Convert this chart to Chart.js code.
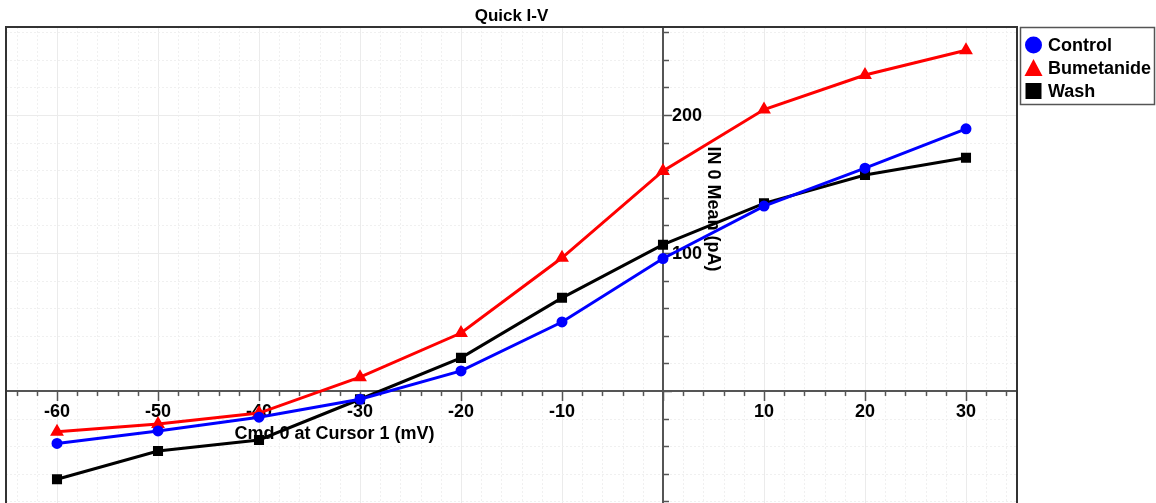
<!DOCTYPE html>
<html>
<head>
<meta charset="utf-8">
<title>Quick I-V</title>
<script src="https://cdn.jsdelivr.net/npm/chart.js@4/dist/chart.umd.min.js"></script>
<style>
  html, body { margin: 0; padding: 0; background: #fff; overflow: hidden; }
  canvas { display: block; }
</style>
</head>
<body>
<canvas id="iv" width="1156" height="503"></canvas>
<script>
// datos (mV / pA)
const voltages = [-60, -50, -40, -30, -20, -10, 0, 10, 20, 30];
const control = [-38, -29, -19, -6, 14.5, 50, 96, 134, 161.5, 190];
const bumetanide = [-29.5, -24, -16, 10, 42, 96.5, 159.5, 204, 229, 247];
const wash = [-64, -43.5, -35.5, -6, 24, 67.5, 106, 136, 156.5, 169];
const xTicks = [-60, -50, -40, -30, -20, -10, 10, 20, 30];
const yTicks = [100, 200];

const seriesNames = ["Control", "Bumetanide", "Wash"];
const seriesColors = ["#0000ff", "#ff0000", "#000000"];

function pts(vals) {
  return voltages.map((v, i) => ({ x: v, y: vals[i] }));
}

const FONT = "bold 18px 'Liberation Sans', Arial, sans-serif";
const AXIS = "#555";

// ejes cruzando en el origen, rejilla, titulos
const axesPlugin = {
  id: "axesPlugin",
  beforeDatasetsDraw(chart) {
    const ctx = chart.ctx;
    const a = chart.chartArea;
    const xs = chart.scales.x;
    const ys = chart.scales.y;
    const x0 = xs.getPixelForValue(0);
    const y0 = ys.getPixelForValue(0);
    ctx.save();

    // rejilla
    for (let v = -64; v <= 34; v += 2) {
      const px = Math.round(xs.getPixelForValue(v)) + 0.5;
      const major = v % 10 === 0;
      ctx.strokeStyle = major ? "#ebebeb" : "#f0f0f0";
      ctx.lineWidth = 1;
      ctx.setLineDash(major ? [] : [2, 2]);
      ctx.beginPath();
      ctx.moveTo(px, a.top);
      ctx.lineTo(px, a.bottom);
      ctx.stroke();
    }
    for (let v = -80; v <= 260; v += 20) {
      const py = Math.round(ys.getPixelForValue(v)) + 0.5;
      const major = v % 100 === 0;
      ctx.strokeStyle = major ? "#ebebeb" : "#f0f0f0";
      ctx.setLineDash(major ? [] : [2, 2]);
      ctx.beginPath();
      ctx.moveTo(a.left, py);
      ctx.lineTo(a.right, py);
      ctx.stroke();
    }
    ctx.setLineDash([]);

    // eje x
    ctx.strokeStyle = AXIS;
    ctx.lineWidth = 2;
    ctx.beginPath();
    ctx.moveTo(a.left, y0);
    ctx.lineTo(a.right, y0);
    ctx.stroke();
    ctx.lineWidth = 1.5;
    for (let v = -64; v <= 34; v += 2) {
      const px = Math.round(xs.getPixelForValue(v)) + 0.5;
      const len = v % 10 === 0 ? 10 : 5;
      ctx.beginPath();
      ctx.moveTo(px, y0);
      ctx.lineTo(px, y0 + len);
      ctx.stroke();
    }

    // eje y
    ctx.lineWidth = 2;
    ctx.beginPath();
    ctx.moveTo(x0, a.top);
    ctx.lineTo(x0, a.bottom);
    ctx.stroke();
    ctx.lineWidth = 1.5;
    for (let v = -80; v <= 260; v += 20) {
      const py = Math.round(ys.getPixelForValue(v)) + 0.5;
      const len = v % 100 === 0 ? 9 : 6;
      ctx.beginPath();
      ctx.moveTo(x0, py);
      ctx.lineTo(x0 + len, py);
      ctx.stroke();
    }

    // etiquetas
    ctx.fillStyle = "#000";
    ctx.font = FONT;
    ctx.textAlign = "center";
    ctx.textBaseline = "middle";
    xTicks.forEach(v => {
      ctx.fillText(String(v), xs.getPixelForValue(v), y0 + 21);
    });
    ctx.textAlign = "left";
    yTicks.forEach(v => {
      ctx.fillText(String(v), x0 + 9, ys.getPixelForValue(v) + 1);
    });

    // titulos de ejes
    ctx.textAlign = "center";
    ctx.fillText("Cmd 0 at Cursor 1 (mV)", (a.left + x0) / 2, y0 + 43);
    ctx.save();
    ctx.translate(x0 + 50, (a.top + y0) / 2);
    ctx.rotate(Math.PI / 2);
    ctx.fillText("IN 0 Mean (pA)", 0, 0);
    ctx.restore();

    // titulo
    ctx.font = "bold 17px 'Liberation Sans', Arial, sans-serif";
    ctx.fillText("Quick I-V", (a.left + a.right) / 2, 16);
    ctx.restore();
  },
  afterDraw(chart) {
    const ctx = chart.ctx;
    const a = chart.chartArea;
    ctx.save();
    // marco del area
    ctx.strokeStyle = "#333";
    ctx.lineWidth = 2;
    ctx.strokeRect(a.left, a.top, a.right - a.left, a.bottom - a.top + 10);

    // leyenda con recuadro
    const lx = 1020, ly = 27, lw = 134, lh = 77;
    ctx.lineWidth = 1.5;
    ctx.strokeStyle = "#555";
    ctx.strokeRect(lx + 0.5, ly + 0.5, lw, lh);
    ctx.font = FONT;
    ctx.textAlign = "left";
    ctx.textBaseline = "middle";
    chart.data.datasets.forEach((ds, i) => {
      const cy = 45 + i * 23;
      const cx = 1033.5;
      ctx.fillStyle = ds.borderColor;
      ctx.beginPath();
      if (ds.pointStyle === "circle") {
        ctx.arc(cx, cy, 8.5, 0, Math.PI * 2);
      } else if (ds.pointStyle === "triangle") {
        ctx.moveTo(cx, cy - 9);
        ctx.lineTo(cx + 9, cy + 8);
        ctx.lineTo(cx - 9, cy + 8);
        ctx.closePath();
      } else {
        ctx.rect(cx - 8, cy - 8, 16, 16);
      }
      ctx.fill();
      ctx.fillStyle = "#000";
      ctx.fillText(ds.label, 1048, cy + 1);
    });
    ctx.restore();
  }
};

new Chart(document.getElementById("iv"), {
  type: "scatter",
  data: {
    datasets: [
      {
        label: seriesNames[0],
        data: pts(control),
        borderColor: seriesColors[0],
        backgroundColor: seriesColors[0],
        pointStyle: "circle",
        pointRadius: 4,
        showLine: true,
        borderWidth: 3,
      },
      {
        label: seriesNames[1],
        data: pts(bumetanide),
        borderColor: seriesColors[1],
        backgroundColor: seriesColors[1],
        pointStyle: "triangle",
        pointRadius: 5,
        showLine: true,
        borderWidth: 3,
      },
      {
        label: seriesNames[2],
        data: pts(wash),
        borderColor: seriesColors[2],
        backgroundColor: seriesColors[2],
        pointStyle: "rect",
        pointRadius: 5,
        showLine: true,
        borderWidth: 3,
      }
    ]
  },
  plugins: [axesPlugin],
  options: {
    responsive: false,
    animation: false,
    layout: {
      autoPadding: false,
      padding: { left: 6, top: 27, right: 139, bottom: 0 }
    },
    plugins: {
      legend: { display: false },
      tooltip: { enabled: false },
      title: { display: false }
    },
    scales: {
      x: { type: "linear", display: false, min: -65.05, max: 35.05 },
      y: { type: "linear", display: false, min: -81.2, max: 263.8 }
    }
  }
});
</script>
</body>
</html>
